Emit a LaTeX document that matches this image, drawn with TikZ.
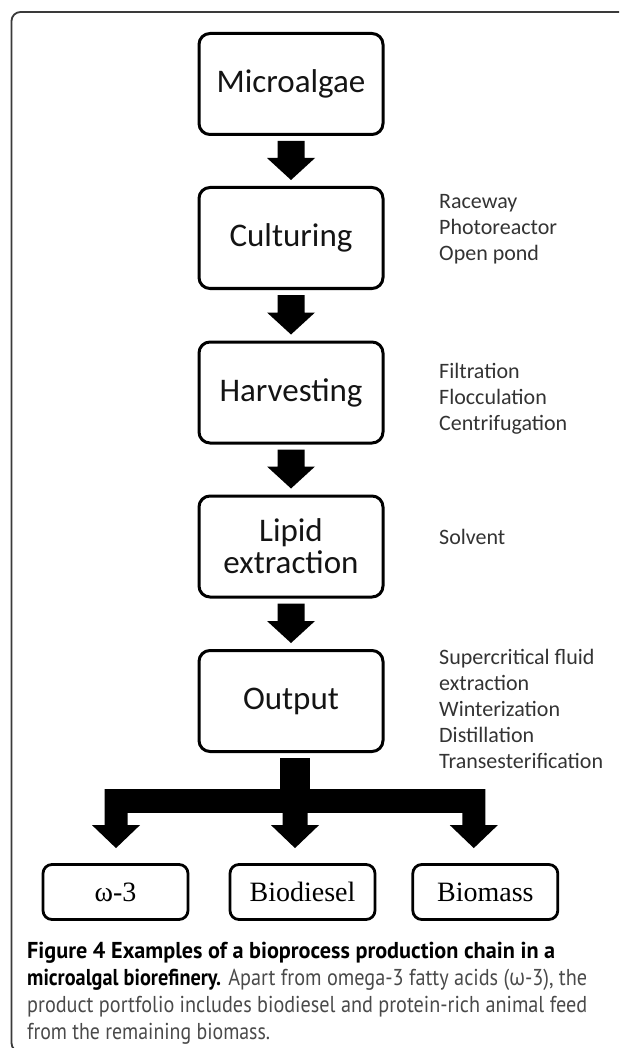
\documentclass[tikz,border=0pt]{standalone}
\usepackage{graphicx}
\usepackage{fontspec}
\setmainfont{Carlito}
\newfontfamily\prodfont{Liberation Serif}
\newfontfamily\capfont{PT Sans}
\newfontfamily\grkfont{Open Sans}
\usetikzlibrary{calc}
\definecolor{framegray}{HTML}{3A3A3A}
\definecolor{labelgray}{HTML}{333333}
\definecolor{capgray}{HTML}{4A4A4A}
\newcommand\blockarr[2]{%
  \fill[blockfill] let \p1=(#1.south), \p2=(#2.north) in
    (\x1-13.5pt,\y1-5pt) -- (\x1+13.5pt,\y1-5pt) -- (\x1+13.5pt,\y2+28pt) --
    (\x1+24pt,\y2+28pt) -- (\x1,\y2+6pt) -- (\x1-24pt,\y2+28pt) --
    (\x1-13.5pt,\y2+28pt) -- cycle;}
\newcommand\branchdown[3]{%
  \fill[blockfill] let \p1=(#1), \p2=(#3) in
    (\x1-#2,\y2) -- (\x1+#2,\y2) -- (\x1+#2,\y1+23pt) -- (\x1+24pt,\y1+23pt) --
    (\x1,\y1) -- (\x1-24pt,\y1+23pt) -- (\x1-#2,\y1+23pt) -- cycle;}
\begin{document}
\begin{tikzpicture}[x=1pt,y=-1pt,
  stepbox/.style={draw=black, line width=3pt, rounded corners=11pt,
    minimum width=184pt, minimum height=101pt, inner sep=0pt, align=center,
    font=\fontsize{33}{32}\selectfont, text=black!92},
  prodbox/.style={draw=black, line width=2.8pt, rounded corners=9pt,
    minimum width=145pt, minimum height=55pt, inner sep=0pt,
    font=\prodfont\fontsize{28}{30}\selectfont},
  sidelabel/.style={anchor=west, inner sep=0pt, align=left, text=labelgray,
    font=\fontsize{22}{26}\selectfont},
  blockfill/.style={fill=black}]
\useasboundingbox (0,0) rectangle (619,1048);
\clip (0,0) rectangle (619,1048);
\draw[framegray, line width=1.8pt, rounded corners=9pt]
  (700,1052) -- (11.5,1052) -- (11.5,12) -- (700,12);

% process chain
\node[stepbox] (micro) at (291,84) {Microalgae};
\node[stepbox] (cult) at (291,238) {Culturing};
\node[stepbox] (harv) at (291,392.5) {Harvesting};
\node[stepbox] (lipid) at (291,546.5) {Lipid\\extraction};
\node[stepbox] (out) at (291,701) {Output};

\blockarr{micro}{cult}
\blockarr{cult}{harv}
\blockarr{harv}{lipid}
\blockarr{lipid}{out}

% side labels
\node[sidelabel] (lc) at (439,229) {Raceway\\Photoreactor\\Open pond};
\node[sidelabel] (lh) at (439,399) {Filtration\\Flocculation\\Centrifugation};
\node[sidelabel] (ll) at (439,537) {Solvent};
\node[sidelabel] (lo) at (439,709) {Supercritical fluid\\extraction\\Winterization\\Distillation\\Transesterification};

% products
\node[prodbox] (w3) at (115.5,892) {ω-3};
\node[prodbox] (bd) at (302.5,892) {Biodiesel};
\node[prodbox] (bm) at (485.3,892) {Biomass};

% branching arrow
\coordinate (tL) at ($(w3.north)+(0.5,-15)$);
\coordinate (tM) at ($(bd.north)+(-7.5,-15)$);
\coordinate (tR) at ($(bm.north)+(-11.5,-15)$);
\coordinate (barL) at ($(tL)+(-11.5,-59)$);
\coordinate (barR) at ($(tR)+(11.5,-35)$);
\fill[blockfill] let \p0=(out.south), \p2=(barR) in
  (\x0-11pt,\y0-5pt) rectangle (\x0+19pt,\y2);
\fill[blockfill] (barL) rectangle (barR);
\branchdown{tL}{11.5pt}{barL}
\branchdown{tM}{12.5pt}{barL}
\branchdown{tR}{11.5pt}{barL}

% caption
\node[anchor=west, inner sep=0pt, align=left,
  font=\capfont\fontsize{23}{27}\selectfont] (cap) at (27,993)
  {\resizebox{528pt}{\height}{\textbf{Figure 4 Examples of a bioprocess production chain in a}}\\
   \resizebox{560pt}{\height}{\textbf{microalgal biorefinery.} \textcolor{capgray}{Apart from omega-3 fatty acids ({\grkfont ω}-3), the}}\\
   \resizebox{560pt}{\height}{\textcolor{capgray}{product portfolio includes biodiesel and protein-rich animal feed}}\\
   \resizebox{243pt}{\height}{\textcolor{capgray}{from the remaining biomass.}}};
\end{tikzpicture}
\end{document}
